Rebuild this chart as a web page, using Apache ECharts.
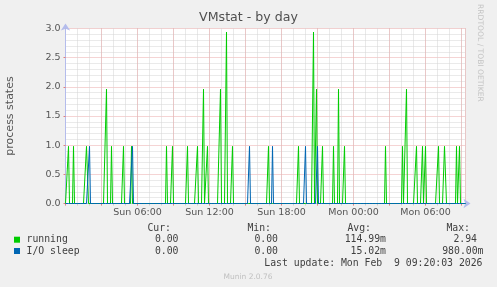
<!DOCTYPE html>
<html>
<head>
<meta charset="utf-8">
<script src="https://cdn.jsdelivr.net/npm/echarts@6/dist/echarts.min.js"></script>
<style>
html,body{margin:0;padding:0;background:#f0f0f0;}
#chart{width:497px;height:287px;}
</style>
</head>
<body>
<div id="chart"></div>
<script>
// ---- data (time in minutes since Sun 00:00, 5-minute samples) ----
const seriesNames = ['running', 'I/O sleep'];
const seriesColors = ['#00cc00', '#0066b3'];
const runningMinutes = [15,40,105,110,205,230,290,330,505,535,610,660,690,710,775,805,835,1015,1165,1240,1255,1285,1340,1365,1395,1600,1685,1705,1755,1785,1800,1865,1895,1900,1955,1970];
const runningValues  = [0.98,0.98,0.98,0.98,1.96,0.98,0.98,0.98,0.98,0.98,0.98,0.98,1.96,0.98,1.96,2.94,0.98,0.98,0.98,2.94,1.96,0.98,0.98,1.96,0.98,0.98,0.98,1.96,0.98,0.98,0.98,0.98,0.98,0.98,0.98,0.98];
const ioMinutes = [120,335,920,1035,1200,1260];
const ioValues  = [0.98,0.98,0.98,0.98,0.98,0.98];
const startMinute = 0;
const endMinute = 2000;
const stepMinutes = 5;
const xTickMinutes = [360, 720, 1080, 1440, 1800];
const xTickLabels = ['Sun 06:00', 'Sun 12:00', 'Sun 18:00', 'Mon 00:00', 'Mon 06:00'];
const yTicks = [0, 0.5, 1, 1.5, 2, 2.5, 3];
const statHeaders = ['Cur:', 'Min:', 'Avg:', 'Max:'];
const runningStats = ['0.00', '0.00', '114.99m', '2.94'];
const ioStats = ['0.00', '0.00', '15.02m', '980.00m'];
const titleText = 'VMstat - by day';
const yAxisTitle = 'process states';
const lastUpdate = 'Last update: Mon Feb  9 09:20:03 2026';
const footer = 'Munin 2.0.76';
const sideText = 'RRDTOOL / TOBI OETIKER';

// build full 5-minute sample table from spike lists
function buildSeries(mins, vals) {
  const map = {};
  mins.forEach((m, i) => { map[m] = vals[i]; });
  const out = [];
  for (let m = startMinute; m <= endMinute; m += stepMinutes) {
    out.push([m, map[m] !== undefined ? map[m] : 0]);
  }
  return out;
}

const chart = echarts.init(document.getElementById('chart'), null, {renderer: 'canvas'});
const textColor = '#555555';
const statColor = '#404040';
const axisColor = '#b4bcec';
const majorGrid = '#eaa8a8';
const minorGrid = '#d4d4d4';
const mono = '"DejaVu Sans Mono", monospace';
const sans = '"DejaVu Sans", sans-serif';

const colRight = [171, 271, 371, 470];
const valRight = [178.5, 278, 386, 477];
const valRight2 = [178.5, 278, 386, 483.5];

const graphics = [];
graphics.push({type:'text', left: 'center', top: 11, style:{text: titleText, font: '12.6px ' + sans, fill: '#505050'}});
graphics.push({type:'text', x: 4.5, y: 116, rotation: Math.PI/2, style:{text: yAxisTitle, font: '11px ' + sans, fill: textColor, textAlign:'center', textVerticalAlign:'top'}});
graphics.push({type:'text', x: 484, y: 4, rotation: -Math.PI/2, style:{text: sideText, font: '7.6px ' + sans, fill: '#c4c4c4', textAlign:'left', textVerticalAlign:'top'}});
statHeaders.forEach((h, i) => {
  graphics.push({type:'text', x: colRight[i], y: 228.5, style:{text: h, font: '9.8px ' + mono, fill: statColor, textAlign:'right', textVerticalAlign:'middle'}});
});
[runningStats, ioStats].forEach((row, r) => {
  const y = 239.7 + r * 11.3;
  graphics.push({type:'rect', shape:{x: 14, y: y - 3, width: 6, height: 6}, style:{fill: seriesColors[r]}});
  graphics.push({type:'text', x: 26.5, y: y, style:{text: seriesNames[r], font: '9.8px ' + mono, fill: statColor, textAlign:'left', textVerticalAlign:'middle'}});
  const rights = r === 0 ? valRight : valRight2;
  row.forEach((v, i) => {
    graphics.push({type:'text', x: rights[i], y: y, style:{text: v, font: '9.8px ' + mono, fill: statColor, textAlign:'right', textVerticalAlign:'middle'}});
  });
});
graphics.push({type:'text', x: 482.5, y: 263.3, style:{text: lastUpdate, font: '9.8px ' + mono, fill: statColor, textAlign:'right', textVerticalAlign:'middle'}});
graphics.push({type:'text', x: 248, y: 276.7, style:{text: footer, font: '7.5px ' + sans, fill: '#c0c0c0', textAlign:'center', textVerticalAlign:'middle'}});

const option = {
  animation: false,
  backgroundColor: '#f0f0f0',
  grid: {left: 65.5, top: 28.5, width: 400, height: 175, show: true, backgroundColor: '#ffffff', borderWidth: 0},
  xAxis: [
    {
      type: 'value', min: startMinute, max: endMinute, interval: 60, position: 'bottom',
      axisLine: {show: false},
      axisTick: {show: true, length: 2, lineStyle: {color: '#cccccc'}},
      axisLabel: {show: false},
      splitLine: {show: true, lineStyle: {color: minorGrid, type: [1, 1], width: 1}}
    },
    {
      type: 'value', min: startMinute, max: endMinute, interval: 180, position: 'bottom',
      axisLine: {show: true, lineStyle: {color: axisColor, width: 1}, symbol: ['none', 'arrow'], symbolSize: [7, 7], symbolOffset: [0, 5]},
      axisTick: {show: true, length: 2, lineStyle: {color: '#e08080'}},
      axisLabel: {
        show: true, color: textColor, fontSize: 9.5, fontFamily: 'DejaVu Sans', margin: 4,
        formatter: function (v) { const i = xTickMinutes.indexOf(v); return i >= 0 ? xTickLabels[i] : ''; }
      },
      splitLine: {show: true, lineStyle: {color: majorGrid, type: [1, 1], width: 1}}
    }
  ],
  yAxis: {
    type: 'value', min: yTicks[0], max: yTicks[yTicks.length - 1], interval: 0.5,
    axisLine: {show: true, lineStyle: {color: axisColor, width: 1}, symbol: ['none', 'arrow'], symbolSize: [7, 7], symbolOffset: [0, 5]},
    axisTick: {show: true, length: 2, lineStyle: {color: '#e08080'}},
    minorTick: {show: false, splitNumber: 5},
    minorSplitLine: {show: true, lineStyle: {color: minorGrid, type: [1, 1], width: 1}},
    axisLabel: {color: textColor, fontSize: 9.5, fontFamily: 'DejaVu Sans', margin: 5, formatter: function (v) { return v.toFixed(1); }},
    splitLine: {show: true, lineStyle: {color: majorGrid, type: [1, 1], width: 1}}
  },
  series: [
    {name: seriesNames[0], type: 'line', xAxisIndex: 1, data: buildSeries(runningMinutes, runningValues), showSymbol: false, symbol: 'none', lineStyle: {color: seriesColors[0], width: 1}, itemStyle: {color: seriesColors[0]}, z: 3},
    {name: seriesNames[1], type: 'line', xAxisIndex: 1, data: buildSeries(ioMinutes, ioValues), showSymbol: false, symbol: 'none', lineStyle: {color: seriesColors[1], width: 1}, itemStyle: {color: seriesColors[1]}, z: 4}
  ],
  graphic: graphics
};
chart.setOption(option);
</script>
</body>
</html>
